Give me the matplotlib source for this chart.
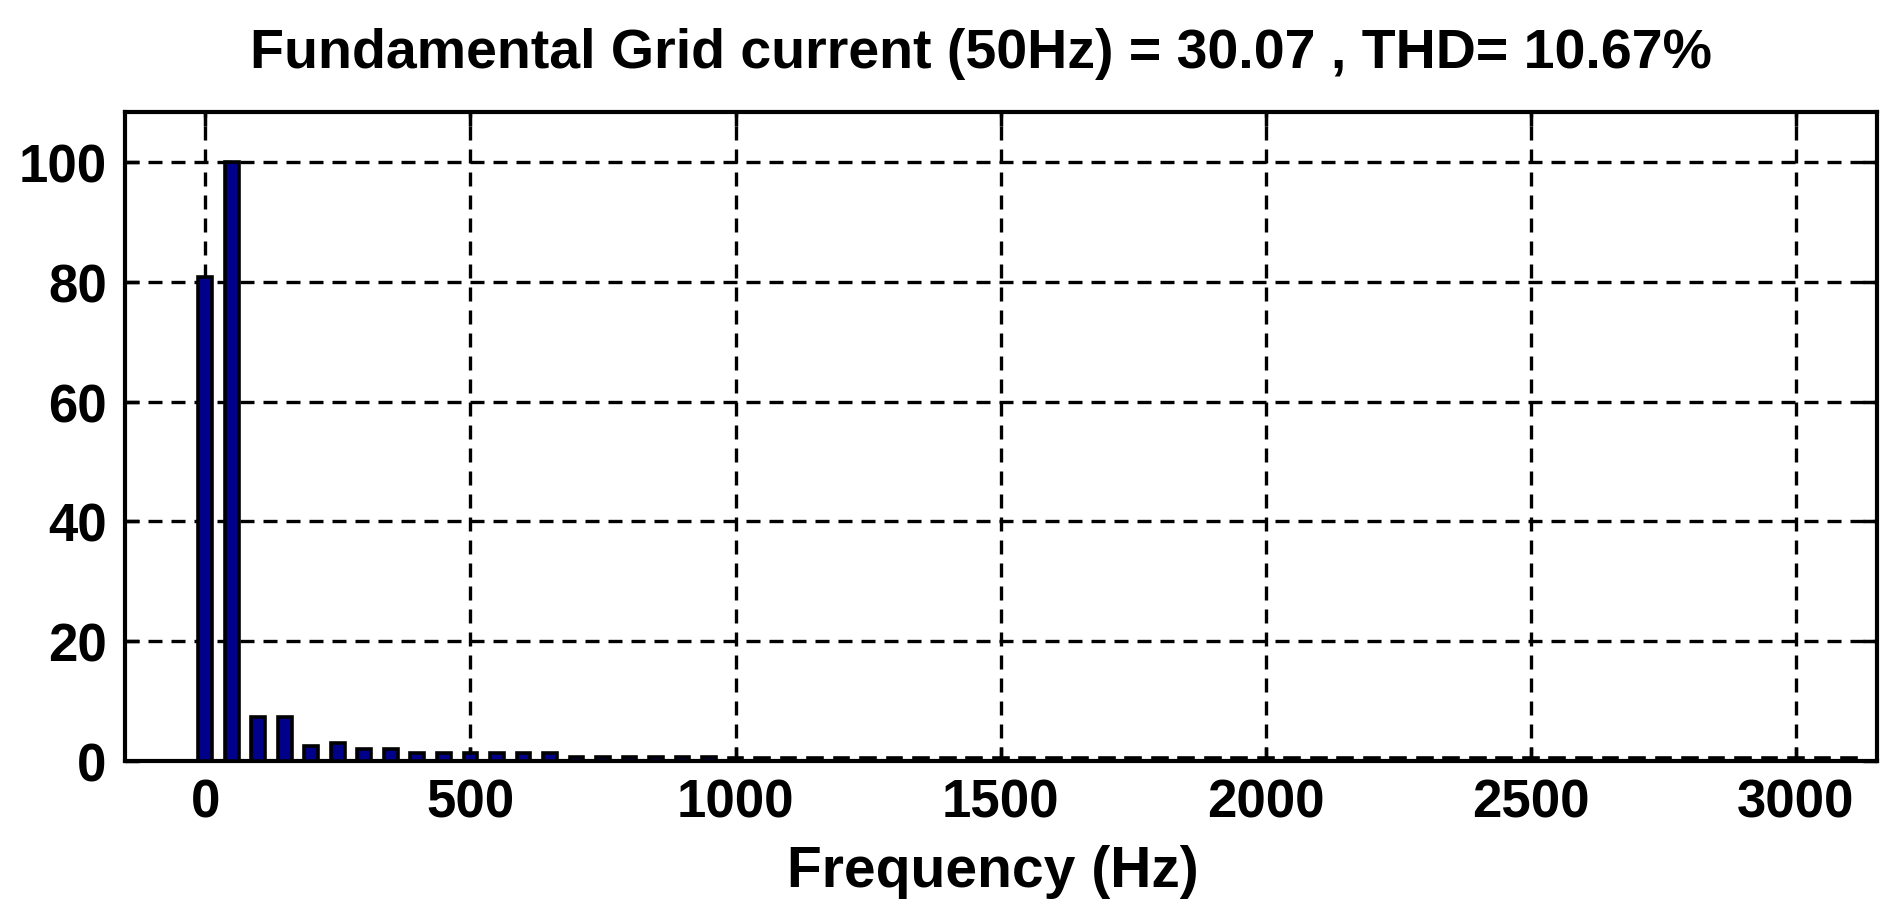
import numpy as np
import matplotlib.pyplot as plt

plt.rcParams['font.family'] = ['Liberation Sans', 'DejaVu Sans']
plt.rcParams['font.weight'] = 'bold'

# Harmonic spectrum (% of fundamental), bars every 50 Hz
freqs = np.arange(0, 3101, 50)
mag_low = [80.8, 100, 7.2, 7.2, 2.5, 3.0, 1.9, 1.9, 1.3, 1.3, 1.3, 1.3, 1.3, 1.3]
mag_tail = [0.6] * 6 + [0.5] * (len(freqs) - len(mag_low) - 6)
mag = np.array(mag_low + mag_tail)

fig = plt.figure(figsize=(18.98, 9.12), dpi=100)
ax = fig.add_axes([0.0657, 0.165, 0.9233, 0.7115])

ax.bar(freqs, mag, width=26, color='#00008B', edgecolor='black', linewidth=2.6, zorder=3)

ax.set_xlim(-152, 3153)
ax.set_ylim(0, 108.5)
ax.set_xticks(np.arange(0, 3001, 500))
ax.set_yticks(np.arange(0, 101, 20))
ax.grid(True, color='black', linestyle=(0, (4.2, 2.7)), linewidth=2.4)
ax.set_axisbelow(True)
for s in ax.spines.values():
    s.set_linewidth(3)
ax.tick_params(direction='in', length=10, width=2.5, top=True, right=True,
               labelsize=38)
ax.tick_params(axis='x', pad=12)
ax.tick_params(axis='y', pad=13)
for lab in ax.get_xticklabels() + ax.get_yticklabels():
    lab.set_fontweight('bold')

fig.text(0.5166, 1 - 68 / 912, 'Fundamental Grid current (50Hz) = 30.07 , THD= 10.67%',
         fontsize=40, fontweight='bold', ha='center', va='baseline')
fig.text(0.523, 1 - 887 / 912, 'Frequency (Hz)',
         fontsize=41, fontweight='bold', ha='center', va='baseline')

fig.savefig('out.png', dpi=100)
